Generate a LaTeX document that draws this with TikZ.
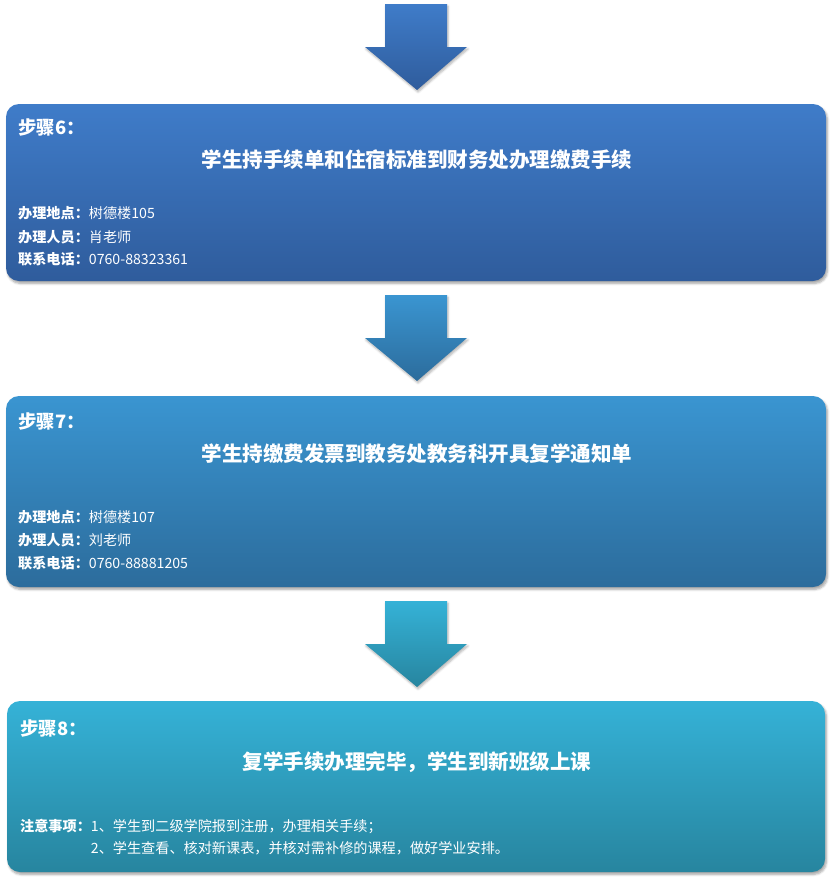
\documentclass[tikz,border=0pt]{standalone}
\usepackage{fontspec}
\setmainfont{Noto Sans CJK SC}
\usetikzlibrary{shadows.blur}
\definecolor{sixtop}{HTML}{3F7CC9}
\definecolor{sixbot}{HTML}{2F5C9C}
\definecolor{seventop}{HTML}{3A95D1}
\definecolor{sevenbot}{HTML}{2C6C9C}
\definecolor{eighttop}{HTML}{35B2D7}
\definecolor{eightbot}{HTML}{27859F}
\begin{document}
\begin{tikzpicture}[x=1bp,y=-1bp,
    stepbox/.style={rounded corners=13bp,
      blur shadow={shadow xshift=1.5bp,shadow yshift=-2.5bp,shadow blur steps=6,shadow opacity=35}},
    downarrow/.style={blur shadow={shadow xshift=1bp,shadow yshift=-2bp,shadow blur steps=5,shadow opacity=30}},
    steplabel/.style={anchor=west,inner sep=0pt,text=white,font=\fontsize{18.5}{20}\selectfont\bfseries},
    steptitle/.style={inner sep=0pt,text=white,font=\fontsize{20.6}{24}\selectfont\bfseries},
    stepinfo/.style={anchor=west,inner sep=0pt,text=white,font=\fontsize{14.2}{16}\selectfont}]
  \useasboundingbox (0,0) rectangle (832,879);

  % Arrow into step 6
  \path [downarrow,top color=sixtop,bottom color=sixbot]
    (385,4) -- (447,4) -- (447,47) -- (467,47) -- (417,90) -- (365,47) -- (385,47) -- cycle;

  % Step 6 box
  \path [stepbox,top color=sixtop,bottom color=sixbot] (6,104) rectangle (826,281);
  \node (six) [steplabel] at (18,128) {步骤6：};
  \node (sixtitle) [steptitle] at (417,160) {学生持手续单和住宿标准到财务处办理缴费手续};
  \node (sixplace) [stepinfo] at (18,213) {\textbf{办理地点：}树德楼105};
  \node (sixstaff) [stepinfo] at (18,237) {\textbf{办理人员：}肖老师};
  \node (sixphone) [stepinfo] at (18,259) {\textbf{联系电话：}0760-88323361};

  % Arrow into step 7
  \path [downarrow,top color=seventop,bottom color=sevenbot]
    (385,295) -- (447,295) -- (447,338) -- (467,338) -- (417,381) -- (365,338) -- (385,338) -- cycle;

  % Step 7 box
  \path [stepbox,top color=seventop,bottom color=sevenbot] (6,396) rectangle (826,587);
  \node (seven) [steplabel] at (18,422) {步骤7：};
  \node (seventitle) [steptitle] at (417,454) {学生持缴费发票到教务处教务科开具复学通知单};
  \node (sevenplace) [stepinfo] at (18,517) {\textbf{办理地点：}树德楼107};
  \node (sevenstaff) [stepinfo] at (18,540) {\textbf{办理人员：}刘老师};
  \node (sevenphone) [stepinfo] at (18,563) {\textbf{联系电话：}0760-88881205};

  % Arrow into step 8
  \path [downarrow,top color=eighttop,bottom color=eightbot]
    (385,601) -- (447,601) -- (447,644) -- (467,644) -- (417,687) -- (365,644) -- (385,644) -- cycle;

  % Step 8 box
  \path [stepbox,top color=eighttop,bottom color=eightbot] (7,701) rectangle (825,872);
  \node (eight) [steplabel] at (20,728) {步骤8：};
  \node (eighttitle) [steptitle] at (417,762) {复学手续办理完毕，学生到新班级上课};
  \node (eightnote) [stepinfo] at (20,826) {\textbf{注意事项：}1、学生到二级学院报到注册，办理相关手续；};
  \node (eightnotetwo) [stepinfo] at (20,848) {\phantom{\textbf{注意事项：}}2、学生查看、核对新课表，并核对需补修的课程，做好学业安排。};
\end{tikzpicture}
\end{document}
